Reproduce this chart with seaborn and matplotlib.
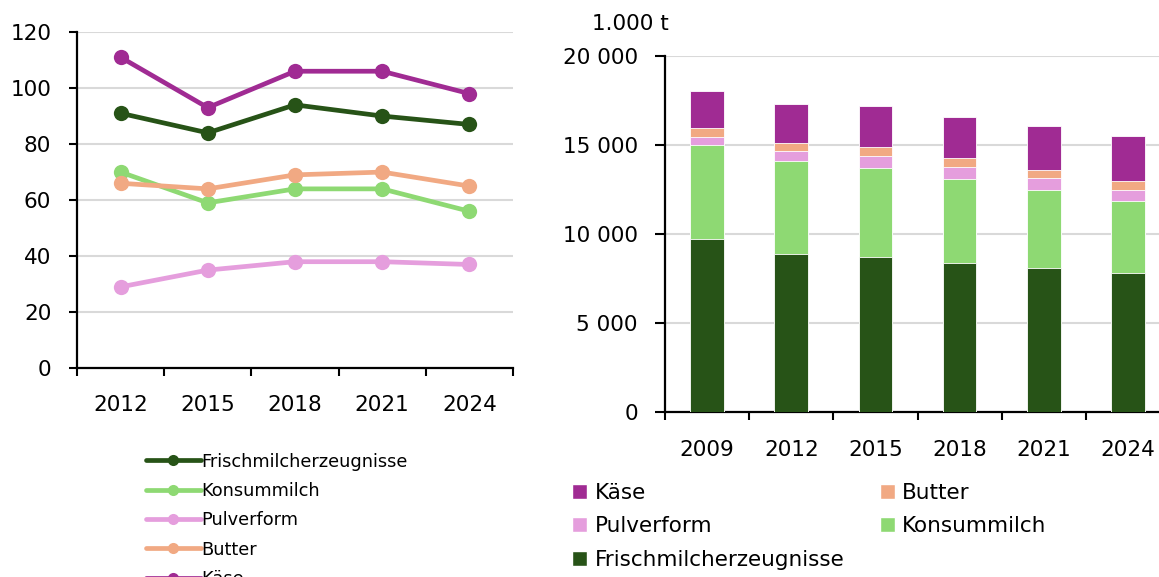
import numpy as np
import pandas as pd
import seaborn as sns
import matplotlib.pyplot as plt
from matplotlib.lines import Line2D
from matplotlib.patches import Patch
from matplotlib.ticker import FuncFormatter

sns.set_theme(style='white')
plt.rcParams['font.family'] = ['DejaVu Sans']
plt.rcParams['text.color'] = 'black'
plt.rcParams['legend.labelcolor'] = 'black'

# line chart (left)
line_years = ['2012', '2015', '2018', '2021', '2024']
frisch_line = [91, 84, 94, 90, 87]
konsum_line = [70, 59, 64, 64, 56]
pulver_line = [29, 35, 38, 38, 37]
butter_line = [66, 64, 69, 70, 65]
kaese_line = [111, 93, 106, 106, 98]

# stacked bars (right), 1.000 t
bar_years = ['2009', '2012', '2015', '2018', '2021', '2024']
frisch_bar = [9700, 8850, 8700, 8380, 8070, 7820]
konsum_bar = [5300, 5260, 5020, 4690, 4410, 4010]
pulver_bar = [460, 530, 670, 690, 660, 650]
butter_bar = [470, 460, 510, 500, 460, 490]
kaese_bar = [2090, 2190, 2300, 2300, 2440, 2510]

products = ['Frischmilcherzeugnisse', 'Konsummilch', 'Pulverform', 'Butter', 'Käse']
colors = {'Frischmilcherzeugnisse': '#275317', 'Konsummilch': '#8ED973',
          'Pulverform': '#E59EDD', 'Butter': '#F1A983', 'Käse': '#A02B93'}

line_df = pd.DataFrame({
    'pos': list(range(len(line_years))) * 5,
    'Produkt': np.repeat(products, len(line_years)),
    'Wert': frisch_line + konsum_line + pulver_line + butter_line + kaese_line,
})

bar_df = pd.DataFrame({'Jahr': bar_years, 'Frischmilcherzeugnisse': frisch_bar,
                       'Konsummilch': konsum_bar, 'Pulverform': pulver_bar,
                       'Butter': butter_bar, 'Käse': kaese_bar})

fs = 15.5
grid_c = '#d9d9d9'

fig = plt.figure(figsize=(11.59, 5.77), dpi=100)
ax1 = fig.add_axes([0.0664, 0.362, 0.3762, 0.5825])
ax2 = fig.add_axes([0.5738, 0.286, 0.4357, 0.617])

# left: lines
sns.lineplot(data=line_df, x='pos', y='Wert', hue='Produkt', hue_order=products,
             palette=colors, marker='o', markersize=11, markeredgewidth=0,
             linewidth=3.4, legend=False, ax=ax1, zorder=3)
ax1.set_xlim(-0.5, len(line_years) - 0.5)
ax1.set_ylim(0, 120)
ax1.set_yticks(range(0, 121, 20))
ax1.set_xticks(range(len(line_years)))
ax1.set_xticklabels(line_years)
ax1.set_xticks(np.arange(-0.5, len(line_years)), minor=True)
ax1.tick_params(axis='x', which='major', length=0, pad=19, labelsize=fs)
ax1.tick_params(axis='x', which='minor', length=6, width=1.5, direction='out', bottom=True)
ax1.tick_params(axis='y', length=6, width=1.5, direction='out', left=True, labelsize=fs, pad=12.5)
ax1.set_xlabel('')
ax1.set_ylabel('')

# right: stacked bars (draw cumulative totals from the top down)
order = ['Käse', 'Butter', 'Pulverform', 'Konsummilch', 'Frischmilcherzeugnisse']
cum = bar_df[products].cumsum(axis=1)
for name in order:
    sns.barplot(x=bar_df['Jahr'], y=cum[name], color=colors[name], width=0.4,
                edgecolor='white', linewidth=0.6, saturation=1, ax=ax2, zorder=3)
ax2.set_xlim(-0.5, len(bar_years) - 0.5)
ax2.set_ylim(0, 20000)
ax2.set_yticks(range(0, 20001, 5000))
ax2.yaxis.set_major_formatter(FuncFormatter(lambda v, p: f'{int(v):,}'.replace(',', ' ')))
ax2.set_xticks(np.arange(-0.5, len(bar_years)), minor=True)
ax2.tick_params(axis='x', which='major', length=0, pad=20.5, labelsize=fs)
ax2.tick_params(axis='x', which='minor', length=6, width=1.5, direction='out', bottom=True)
ax2.tick_params(axis='y', length=7, width=1.5, direction='out', left=True, labelsize=fs, pad=12.5)
ax2.set_xlabel('')
ax2.set_ylabel('')
ax2.text(-0.1446, 1.09, '1.000 t', transform=ax2.transAxes, fontsize=fs, ha='left', va='center')

for ax in (ax1, ax2):
    ax.grid(axis='y', color=grid_c, linewidth=1.5, zorder=0)
    ax.set_axisbelow(True)
    sns.despine(ax=ax)
    for s in ('left', 'bottom'):
        ax.spines[s].set_color('black')
        ax.spines[s].set_linewidth(1.6)
    ax.tick_params(colors='black', labelcolor='black', which='both')

# legends
line_handles = [Line2D([0], [0], color=colors[p], lw=3.4, marker='o', markersize=8,
                       markeredgewidth=0) for p in products]
fig.legend(line_handles, products, loc='upper left', bbox_to_anchor=(0.1195, 0.228),
           frameon=False, fontsize=12.8, handlelength=3.1, handletextpad=0.05,
           labelspacing=0.64, borderaxespad=0)

bar_legend = ['Käse', 'Pulverform', 'Frischmilcherzeugnisse', 'Butter', 'Konsummilch']
bar_handles = [Patch(facecolor=colors[p]) for p in bar_legend]
fig.legend(bar_handles, bar_legend, loc='upper left', bbox_to_anchor=(0.486, 0.178),
           ncol=2, frameon=False, fontsize=fs, handlelength=0.7, handleheight=0.7,
           handletextpad=0.35, labelspacing=0.62, columnspacing=1.65, borderaxespad=0)

fig.savefig('out.png', dpi=100)
